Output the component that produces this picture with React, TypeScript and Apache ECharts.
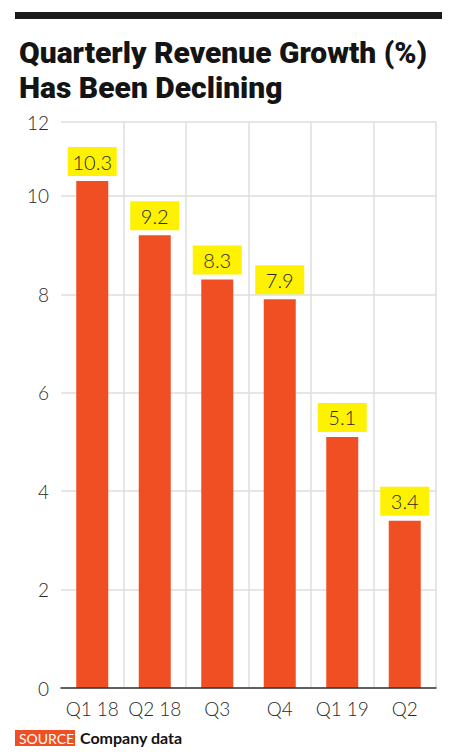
import React, { useEffect, useRef } from "react";
import * as echarts from "echarts";

const quarters = ["Q1 18", "Q2 18", "Q3", "Q4", "Q1 19", "Q2"];
const growth = [10.3, 9.2, 8.3, 7.9, 5.1, 3.4];
// the top gridline sits a bit under 12 in the original, but is still labelled 12
const yMax = 11.5;
const yTopLabel = "12";

const App: React.FC = () => {
  const chartRef = useRef<HTMLDivElement>(null);

  useEffect(() => {
    if (!chartRef.current) return;
    const chart = echarts.init(chartRef.current, undefined, { renderer: "svg" });

    const option = {
      animation: false,
      backgroundColor: "#ffffff",
      title: {
        text: "Quarterly Revenue Growth (%)\nHas Been Declining",
        left: 14,
        top: 30,
        textStyle: {
          fontFamily: "Roboto",
          fontWeight: 900,
          fontSize: 30,
          lineHeight: 35,
          color: "#141414",
        },
      },
      grid: {
        left: 61,
        right: 14,
        top: 122,
        bottom: 67,
      },
      xAxis: {
        type: "category",
        data: quarters,
        axisLine: { show: true, lineStyle: { color: "#333", width: 1.5 } },
        axisTick: { show: false },
        axisLabel: {
          interval: 0,
          margin: 11,
          fontFamily: "Lato",
          fontWeight: 300,
          fontSize: 19,
          color: "#2a2a2a",
        },
        splitLine: {
          show: true,
          interval: 0,
          lineStyle: {
            color: ["transparent", "#dedede", "#dedede", "#dedede", "#dedede", "#dedede", "#dedede"],
            width: 1.5,
          },
        },
        z: 5,
      },
      yAxis: {
        type: "value",
        min: 0,
        max: yMax,
        interval: 2,
        axisLine: { show: false },
        axisTick: { show: false },
        axisLabel: {
          margin: 12,
          fontFamily: "Lato",
          fontWeight: 300,
          fontSize: 19,
          color: "#2a2a2a",
          formatter: (v: number) => (v === yMax ? yTopLabel : String(v)),
        },
        splitLine: {
          show: true,
          lineStyle: { color: "#dedede", width: 1.5 },
        },
      },
      series: [
        {
          type: "bar",
          data: growth,
          barWidth: 32,
          itemStyle: { color: "#f04e23" },
          label: {
            show: true,
            position: "top",
            distance: 5,
            backgroundColor: "#fff200",
            padding: [4, 6],
            width: 37,
            height: 21,
            lineHeight: 21,
            align: "center",
            fontFamily: "Lato",
            fontWeight: 300,
            fontSize: 20,
            color: "#2a2a2a",
          },
        },
      ],
      graphic: [
        {
          type: "rect",
          left: 15,
          top: 12,
          shape: { width: 429, height: 7 },
          style: { fill: "#1a1a1a" },
        },
        {
          type: "rect",
          left: 15,
          top: 730,
          shape: { width: 60, height: 16 },
          style: { fill: "#f04e23" },
        },
        {
          type: "text",
          left: 19,
          top: 731,
          style: {
            text: "SOURCE",
            fill: "#ffffff",
            fontFamily: "Lato",
            fontSize: 14,
            fontWeight: "normal",
          },
        },
        {
          type: "text",
          left: 80,
          top: 729,
          style: {
            text: "Company data",
            fill: "#111111",
            fontFamily: "Lato",
            fontSize: 16,
            fontWeight: "bold",
          },
        },
      ],
    };

    chart.setOption(option);

    return () => {
      chart.dispose();
    };
  }, []);

  return (
    <div
      ref={chartRef}
      style={{ width: 450, height: 755, margin: -8 }}
    />
  );
};

export default App;
